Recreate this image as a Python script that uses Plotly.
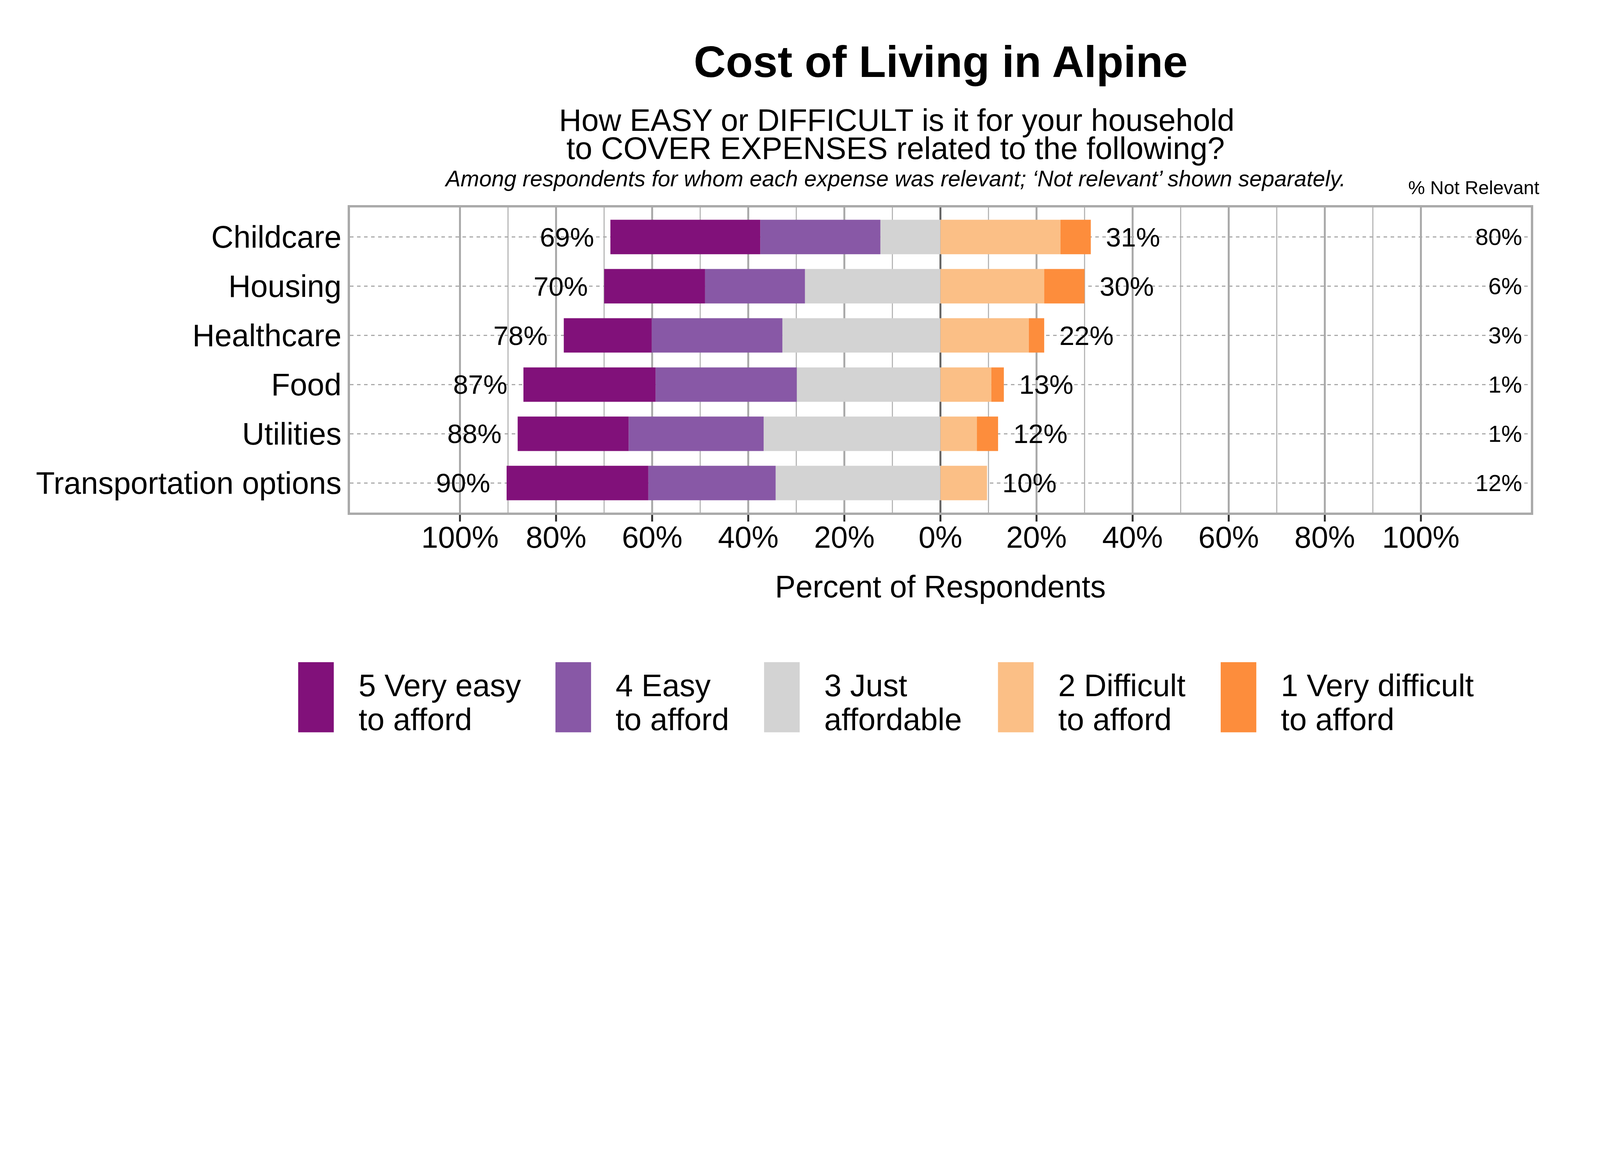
import plotly.graph_objects as go

# survey shares (percent of respondents for whom the expense was relevant)
categories = ["Childcare", "Housing", "Healthcare", "Food", "Utilities", "Transportation options"]
very_easy = [31.2, 21.0, 18.3, 27.5, 23.1, 29.5]
easy = [25.0, 20.8, 27.2, 29.4, 28.1, 26.5]
just_affordable = [12.5, 28.2, 32.9, 29.9, 36.8, 34.3]
difficult = [25.0, 21.6, 18.4, 10.6, 7.6, 9.7]
very_difficult = [6.3, 8.4, 3.2, 2.6, 4.4, 0.0]
not_relevant = [80, 6, 3, 1, 1, 12]

level_labels = [
    ("5 Very easy", "to afford"),
    ("4 Easy", "to afford"),
    ("3 Just", "affordable"),
    ("2 Difficult", "to afford"),
    ("1 Very difficult", "to afford"),
]
colors = ["#81117a", "#8858a6", "#d3d3d3", "#fbbf86", "#fd8d3c"]

major_ticks = [-100, -80, -60, -40, -20, 0, 20, 40, 60, 80, 100]
minor_ticks = [-90, -70, -50, -30, -10, 10, 30, 50, 70, 90]

FONT = "Liberation Sans, Arial, sans-serif"

# the page is shown with a device scale of ~1.47, so lay out in css pixels
S = 4082 / 6000


def s(v):
    return v * S


W, H = 6000, 3000
L, R, T, B = 1305, 5748, 769, 1917  # plot area, in reference pixels (border drawn outside)


def px_x(x):
    return (x - L) / (R - L)


def px_y(y):
    return (B - y) / (B - T)


fig = go.Figure()

# left side: stacked outward from zero (3, then 4, then 5)
left_series = [(just_affordable, colors[2]), (easy, colors[1]), (very_easy, colors[0])]
for vals, col in left_series:
    fig.add_trace(go.Bar(y=categories, x=[-v for v in vals], orientation="h",
                         marker=dict(color=col, line=dict(width=0)), width=0.7,
                         showlegend=False))
for vals, col in [(difficult, colors[3]), (very_difficult, colors[4])]:
    fig.add_trace(go.Bar(y=categories, x=vals, orientation="h",
                         marker=dict(color=col, line=dict(width=0)), width=0.7,
                         showlegend=False))

annotations = []
for i, cat in enumerate(categories):
    left = very_easy[i] + easy[i] + just_affordable[i]
    right = difficult[i] + very_difficult[i]
    annotations.append(dict(x=-left, y=cat, xref="x", yref="y", text=f"{round(left)}%",
                            showarrow=False, xanchor="right", xshift=-s(58),
                            font=dict(size=s(102), color="black", family=FONT)))
    annotations.append(dict(x=right, y=cat, xref="x", yref="y", text=f"{round(right)}%",
                            showarrow=False, xanchor="left", xshift=s(54),
                            font=dict(size=s(102), color="black", family=FONT)))
    annotations.append(dict(x=121.3, y=cat, xref="x", yref="y", text=f"{not_relevant[i]}%",
                            showarrow=False, xanchor="right",
                            font=dict(size=s(88), color="black", family=FONT)))

# titles
annotations += [
    dict(x=0.5, y=px_y(220), xref="paper", yref="paper", text="<b>Cost of Living in Alpine</b>",
         showarrow=False, xanchor="center", yanchor="middle",
         font=dict(size=s(167), color="black", family=FONT)),
    dict(x=px_x(3362), y=px_y(440), xref="paper", yref="paper",
         text="How EASY or DIFFICULT is it for your household",
         showarrow=False, xanchor="center", yanchor="middle",
         font=dict(size=s(117), color="black", family=FONT)),
    dict(x=px_x(3358), y=px_y(547), xref="paper", yref="paper",
         text="to COVER EXPENSES related to the following?",
         showarrow=False, xanchor="center", yanchor="middle",
         font=dict(size=s(117), color="black", family=FONT)),
    dict(x=px_x(3356), y=px_y(660), xref="paper", yref="paper",
         text="<i>Among respondents for whom each expense was relevant; \u2018Not relevant\u2019 shown separately.</i>",
         showarrow=False, xanchor="center", yanchor="middle",
         font=dict(size=s(84), color="black", family=FONT)),
    dict(x=px_x(5784), y=px_y(694), xref="paper", yref="paper", text="% Not Relevant",
         showarrow=False, xanchor="right", yanchor="middle",
         font=dict(size=s(71), color="black", family=FONT)),
    dict(x=0.5, y=px_y(2196), xref="paper", yref="paper", text="Percent of Respondents",
         showarrow=False, xanchor="center", yanchor="middle",
         font=dict(size=s(116), color="black", family=FONT)),
]

# legend drawn by hand so the keys can be large
shapes = []
legend_left = [1110, 2078, 2863, 3743, 4581]
for x0, col, (l1, l2) in zip(legend_left, colors, level_labels):
    shapes.append(dict(type="rect", xref="paper", yref="paper",
                       x0=px_x(x0), x1=px_x(x0 + 134), y0=px_y(2744), y1=px_y(2480),
                       fillcolor=col, line=dict(width=0), layer="above"))
    annotations.append(dict(x=px_x(x0 + 224), y=px_y(2568), xref="paper", yref="paper", text=l1,
                            showarrow=False, xanchor="left", yanchor="middle",
                            font=dict(size=s(117), color="black", family=FONT)))
    annotations.append(dict(x=px_x(x0 + 224), y=px_y(2695), xref="paper", yref="paper", text=l2,
                            showarrow=False, xanchor="left", yanchor="middle",
                            font=dict(size=s(117), color="black", family=FONT)))

fig.update_layout(
    width=round(s(W)), height=round(s(H)), autosize=False,
    margin=dict(l=s(L), r=s(W - R), t=s(T), b=s(H - B), pad=0),
    barmode="relative",
    plot_bgcolor="white", paper_bgcolor="white",
    showlegend=False,
    annotations=annotations,
    shapes=shapes,
    font=dict(family=FONT, color="black"),
)

fig.update_xaxes(
    range=[-122.9, 122.9],
    tickvals=major_ticks,
    ticktext=[f"{abs(v)}%" for v in major_ticks],
    tickfont=dict(size=s(114), color="black", family=FONT),
    ticks="outside", ticklen=s(25), tickwidth=s(8), tickcolor="#333333",
    ticklabelstandoff=-round(s(38)),
    showgrid=True, gridcolor="#aaaaaa", gridwidth=s(8),
    minor=dict(tickvals=minor_ticks, showgrid=True, gridcolor="#b8b8b8", gridwidth=s(4), ticks=""),
    zeroline=True, zerolinecolor="#666666", zerolinewidth=s(8),
    showline=True, mirror=True, linecolor="#aaaaaa", linewidth=s(9),
)
fig.update_yaxes(
    type="category",
    categoryorder="array", categoryarray=categories[::-1],
    range=[-0.6, 5.6],
    tickfont=dict(size=s(116), color="black", family=FONT),
    ticks="",
    showgrid=True, gridcolor="#aaaaaa", gridwidth=s(4), griddash="dash",
    showline=True, mirror=True, linecolor="#aaaaaa", linewidth=s(9),
)

fig.write_html("out.html")
